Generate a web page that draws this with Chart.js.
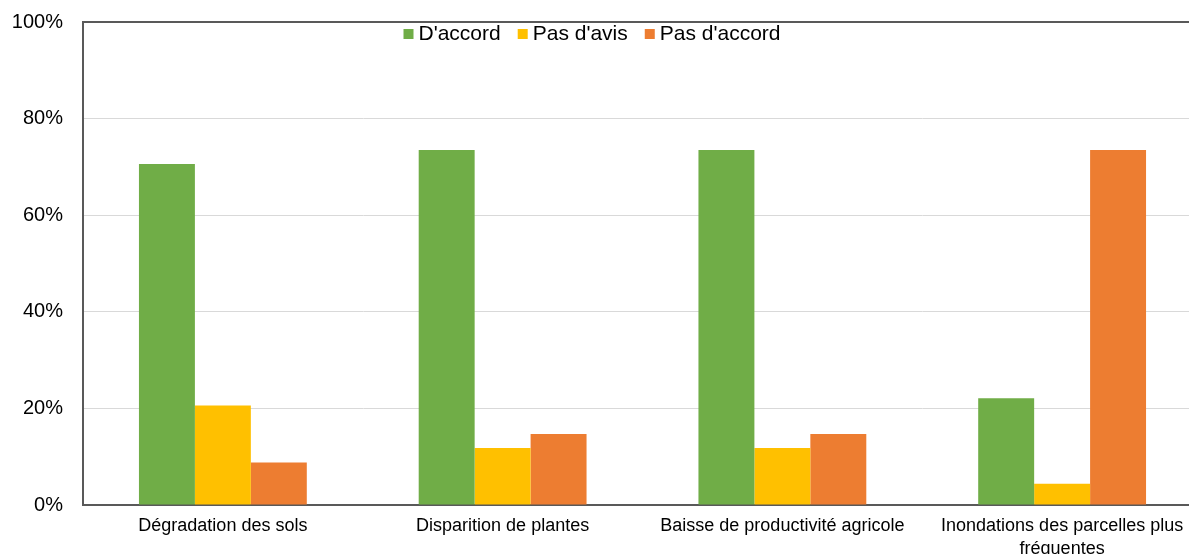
<!DOCTYPE html>
<html lang="fr">
<head>
<meta charset="utf-8">
<title>Perception des effets</title>
<script src="https://cdn.jsdelivr.net/npm/chart.js@4/dist/chart.umd.min.js"></script>
<style>
  html, body { margin: 0; padding: 0; background: #fff; overflow: hidden; }
  #wrap { width: 1202px; height: 554px; position: relative; }
</style>
</head>
<body>
<div id="wrap"><canvas id="chart"></canvas></div>
<script>
// --- Data ---
const categories = [
  'Dégradation des sols',
  'Disparition de plantes',
  'Baisse de productivité agricole',
  ['Inondations des parcelles plus', 'fréquentes']
];
const seriesNames = ["D'accord", "Pas d'avis", "Pas d'accord"];
const daccord = [70.6, 73.5, 73.5, 22.1];
const pasDavis = [20.6, 11.8, 11.8, 4.4];
const pasDaccord = [8.8, 14.7, 14.7, 73.5];
const yTicks = [0, 20, 40, 60, 80, 100];

const colors = ['#70AD47', '#FFC000', '#ED7D31'];
const FONT = '"Liberation Sans", Arial, Helvetica, sans-serif';

// legend drawn inside the plot, near the top edge
const insideLegend = {
  id: 'insideLegend',
  afterDraw(chart) {
    const ctx = chart.ctx;
    ctx.save();
    ctx.font = '21px ' + FONT;
    ctx.textBaseline = 'middle';
    const box = 10, gap = 5, spacing = 17;
    const items = chart.data.datasets.map(ds => ({
      text: ds.label, color: ds.backgroundColor,
      w: box + gap + ctx.measureText(ds.label).width
    }));
    const total = items.reduce((s, it) => s + it.w, 0) + spacing * (items.length - 1);
    let x = 592 - total / 2;
    const y = 34;
    items.forEach(it => {
      ctx.fillStyle = it.color;
      ctx.fillRect(x, y - box / 2, box, box);
      ctx.fillStyle = '#000';
      ctx.fillText(it.text, x + box + gap, y);
      x += it.w + spacing;
    });
    ctx.restore();
  }
};

new Chart(document.getElementById('chart'), {
  type: 'bar',
  data: {
    labels: categories,
    datasets: [daccord, pasDavis, pasDaccord].map((vals, i) => ({
      label: seriesNames[i],
      data: vals,
      backgroundColor: colors[i],
      borderWidth: 0,
      categoryPercentage: 0.6,
      barPercentage: 1.0
    }))
  },
  options: {
    responsive: true,
    maintainAspectRatio: false,
    animation: false,
    layout: { padding: { top: 22, left: 0, right: 0, bottom: 0 } },
    plugins: {
      legend: { display: false },
      tooltip: { enabled: false }
    },
    scales: {
      x: {
        grid: { display: false, drawTicks: false },
        border: { color: '#595959', width: 2 },
        ticks: {
          color: '#000',
          font: { family: FONT, size: 18, lineHeight: 1.3 },
          padding: 9,
          maxRotation: 0,
          autoSkip: false
        },
        afterFit(scale) { scale.height = 49; }
      },
      y: {
        min: 0,
        max: 100,
        afterBuildTicks(scale) { scale.ticks = yTicks.map(v => ({ value: v })); },
        grid: {
          drawTicks: false,
          color: ctx => ctx.tick && ctx.tick.value === 100 ? '#595959' : '#d9d9d9',
          lineWidth: ctx => ctx.tick && ctx.tick.value === 100 ? 2 : 1
        },
        border: { color: '#595959', width: 2 },
        ticks: {
          color: '#000',
          font: { family: FONT, size: 20 },
          padding: 20,
          callback: v => v + '%'
        },
        afterFit(scale) {
          scale.width = 83;
          // tick padding only spaces labels horizontally here
          scale.paddingTop = 12;
          scale.paddingBottom = 12;
        }
      }
    }
  },
  plugins: [insideLegend]
});
</script>
</body>
</html>
